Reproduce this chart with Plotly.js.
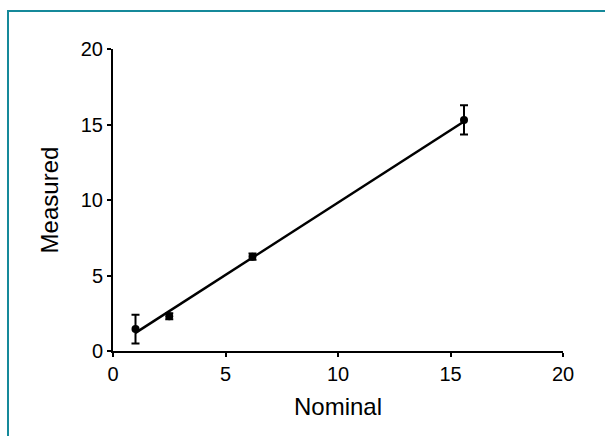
<!DOCTYPE html>
<html>
<head>
<meta charset="utf-8">
<script src="https://cdn.plot.ly/plotly-3.0.1.min.js"></script>
<style>
  html, body { margin: 0; padding: 0; background: #ffffff; }
  #frame { position: absolute; left: 7px; top: 10px; width: 610px; height: 440px;
           border-top: 2px solid #15899a; border-left: 2px solid #15899a; pointer-events: none; }
  #chart { position: absolute; left: 0; top: 0; width: 605px; height: 436px; }
</style>
</head>
<body>
<div id="chart"></div>
<div id="frame"></div>
<script>
// Data
var nominal = [1.0, 2.5, 6.2, 15.6];
var measured = [1.45, 2.3, 6.25, 15.3];
var errors = [0.95, 0.2, 0.2, 0.97];
var fitX = [1.0, 15.6];
var fitY = [1.2, 15.2];
var xTicks = [0, 5, 10, 15, 20];
var yTicks = [0, 5, 10, 15, 20];

var traces = [
  {
    x: fitX, y: fitY, type: 'scatter', mode: 'lines',
    line: { color: '#000000', width: 2.5 }, hoverinfo: 'skip', showlegend: false
  },
  {
    x: nominal, y: measured, type: 'scatter', mode: 'markers',
    marker: { color: '#000000', size: 8, symbol: 'circle' },
    error_y: { type: 'data', array: errors, visible: true, color: '#000000', thickness: 2, width: 4 },
    showlegend: false
  }
];

var FONT = 'Liberation Sans, Arial, sans-serif';
var axisCommon = {
  showgrid: false, zeroline: false, showline: true, linecolor: '#000000', linewidth: 2,
  ticks: 'outside', ticklen: 4, tickwidth: 2, tickcolor: '#000000',
  tickfont: { family: FONT, size: 20, color: '#000000' },
  tickmode: 'array', fixedrange: true
};

var layout = {
  width: 605, height: 436,
  margin: { l: 113, r: 42, t: 49, b: 85, pad: 0 },
  paper_bgcolor: '#ffffff', plot_bgcolor: '#ffffff',
  showlegend: false,
  xaxis: Object.assign({}, axisCommon, {
    range: [0, 20], tickvals: xTicks, ticktext: xTicks.map(String),
    title: { text: 'Nominal', standoff: 14,
             font: { family: FONT, size: 24, color: '#000000' } }
  }),
  yaxis: Object.assign({}, axisCommon, {
    range: [0, 20], tickvals: yTicks, ticktext: yTicks.map(String),
    title: { text: 'Measured', standoff: 15,
             font: { family: FONT, size: 24, color: '#000000' } }
  })
};

Plotly.newPlot('chart', traces, layout, { displayModeBar: false, staticPlot: true });
</script>
</body>
</html>
